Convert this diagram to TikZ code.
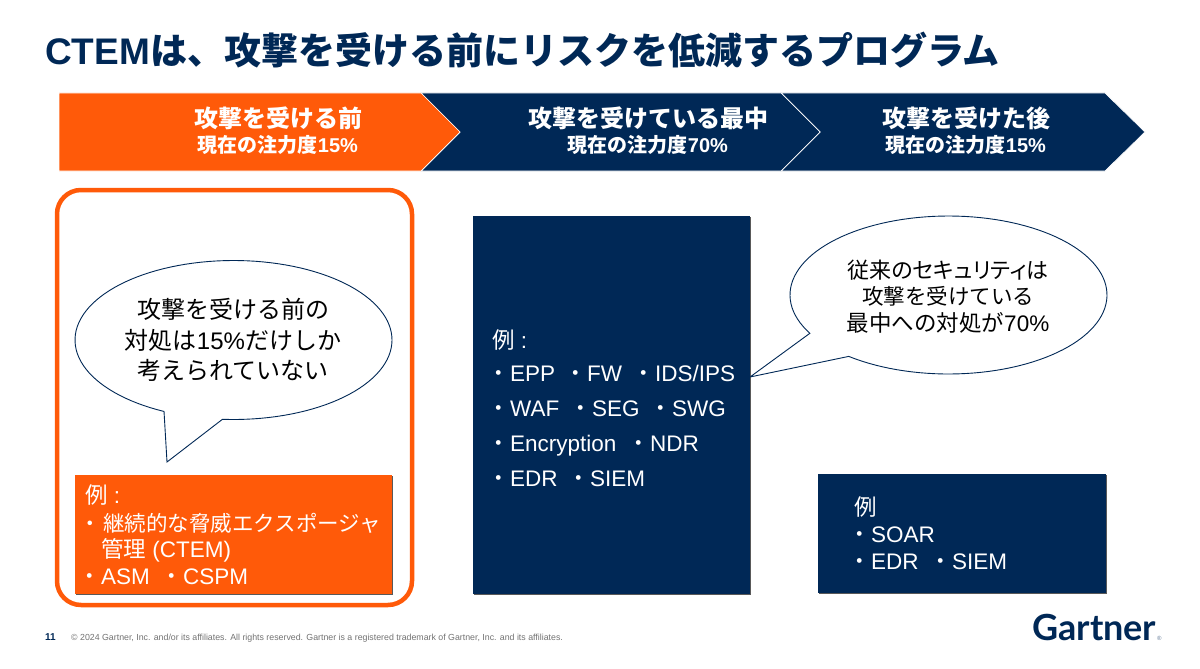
\documentclass[tikz,border=0pt]{standalone}
\usepackage{fontspec}
\setmainfont{Liberation Sans}
\newfontfamily\cjk{Noto Sans CJK JP}
\newfontfamily\cjkp[RawFeature={+palt}]{Noto Sans CJK JP}
\newfontfamily\logofont{Lato}
\newcommand{\J}[1]{{\cjk #1}}
\newcommand{\JP}[1]{{\cjkp #1}}
\definecolor{gnavy}{HTML}{002856}
\definecolor{gorange}{HTML}{FF5A09}
\tikzset{
  chev/.style={draw=white,line width=0.7pt},
  shade box/.style={fill=black!65,draw=none},
  bubble/.style={draw=gnavy,fill=white,line width=0.9pt,line join=miter},
  wt/.style={text=white,anchor=base west,inner sep=0pt,font=\fontsize{22.5}{22.5}\selectfont},
  bt/.style={text=black,anchor=base,inner sep=0pt,font=\fontsize{24}{24}\selectfont},
  head/.style={text=white,anchor=base,inner sep=0pt,font=\fontsize{24}{24}\selectfont\bfseries},
  sub/.style={text=white,anchor=base,inner sep=0pt,font=\fontsize{20}{20}\selectfont\bfseries},
}
% one bulleted item: the dot stands just before the text
\newcommand{\seg}[4]{%
  \node[wt] (#1b) at (#2-23,#3) {\J{・}};
  \node[wt] (#1) at (#2,#3) {#4};}
\begin{document}
\begin{tikzpicture}[x=1pt,y=-1pt]
\useasboundingbox (0,0) rectangle (1200,669);
\fill[white] (0,0) rectangle (1200,669);
% title
\node[anchor=base west,inner sep=0pt,text=gnavy,font=\fontsize{37}{37}\selectfont\bfseries] (title) at (45,65) {CTEM\J{は、攻撃を受ける前にリスクを低減するプログラム}};
% chevrons
\fill[chev,fill=gnavy] (781,93) -- (1105,93) -- (1145,132) -- (1105,171) -- (781,171) -- (820,132) -- cycle;
\fill[chev,fill=gnavy] (421,93) -- (781,93) -- (820,132) -- (781,171) -- (421,171) -- (460,132) -- cycle;
\fill[chev,fill=gorange] (59,93) -- (421,93) -- (460,132) -- (421,171) -- (59,171) -- cycle;
\node[head] (h1) at (278,127) {\J{攻撃を受ける前}};
\node[sub] (s1) at (278,152) {\J{現在の注力度}15\%};
\node[head] (h2) at (648,127) {\J{攻撃を受けている最中}};
\node[sub] (s2) at (648,152) {\J{現在の注力度}70\%};
\node[head] (h3) at (966,127) {\J{攻撃を受けた後}};
\node[sub] (s3) at (966,152) {\J{現在の注力度}15\%};
% frame
\draw[gorange,line width=4.5pt,rounded corners=24pt] (57,190) rectangle (412,605);
% left bubble
\draw[bubble] plot[domain=116:454,samples=120] ({233.5+158.5*cos(\x)},{340+79.5*sin(\x)}) -- (167,462) -- cycle;
\node[bt] (l1) at (233,318) {\J{攻撃を受ける前の}};
\node[bt] (l2) at (233,349) {\J{対処は}15\%\J{だけしか}};
\node[bt] (l3) at (233,379) {\J{考えられていない}};
% left box
\fill[shade box] (76,476) rectangle (393,595);
\fill[gorange] (75,475) rectangle (392,594);
\node[wt] (a1) at (85,503) {\J{例} :};
\node[wt,font=\fontsize{21.5}{21.5}\selectfont] (a2b) at (79,531) {\J{・}};
\node[wt,font=\fontsize{21.5}{21.5}\selectfont] (a2) at (103,531) {\J{継続的な脅威エクスポージャ}};
\node[wt] (a3) at (101,557) {\J{管理} (CTEM)};
\seg{a4}{101}{584}{ASM}
\seg{a5}{183}{584}{CSPM}
% middle box
\fill[shade box] (474,217) rectangle (751,595);
\fill[gnavy] (473,216) rectangle (750,594);
\node[wt] (b1) at (492,348) {\J{例} :};
\seg{b2}{510}{381}{EPP}
\seg{b3}{587}{381}{FW}
\seg{b4}{655}{381}{IDS/IPS}
\seg{b5}{510}{416}{WAF}
\seg{b6}{592}{416}{SEG}
\seg{b7}{672}{416}{SWG}
\seg{b8}{510}{451}{Encryption}
\seg{b9}{650}{451}{NDR}
\seg{b10}{510}{486}{EDR}
\seg{b11}{590}{486}{SIEM}
% right bubble
\draw[bubble] plot[domain=151:489,samples=120] ({948.5+158.5*cos(\x)},{295+79*sin(\x)}) -- (750,377) -- cycle;
\node[bt,font=\fontsize{22}{22}\selectfont] (r1) at (948,278) {\JP{従来のセキュリティは}};
\node[bt,font=\fontsize{21.5}{21.5}\selectfont] (r2) at (948,304) {\J{攻撃を受けている}};
\node[bt,font=\fontsize{22.5}{22.5}\selectfont] (r3) at (948,331) {\J{最中への対処が}70\%};
% right box
\fill[shade box] (819,475) rectangle (1107,594);
\fill[gnavy] (818,474) rectangle (1106,593);
\node[wt] (c1) at (854,515) {\J{例}};
\seg{c2}{871}{542}{SOAR}
\seg{c3}{871}{569}{EDR}
\seg{c4}{952}{569}{SIEM}
% footer
\node[anchor=base west,inner sep=0pt,text=gnavy,font=\fontsize{10}{10}\selectfont\bfseries] (pg) at (45,640) {11};
\node[anchor=base west,inner sep=0pt,text=black!55,font=\fontsize{8.8}{8.8}\selectfont] (copy) at (71,640) {© 2024 Gartner, Inc. and/or its affiliates. All rights reserved. Gartner is a registered trademark of Gartner, Inc. and its affiliates.};
\node[anchor=base west,inner sep=0pt,text=gnavy,font=\logofont\fontsize{36}{36}\selectfont\bfseries] (logo) at (1032,640) {Gartner};
\node[anchor=base west,inner sep=0pt,text=gnavy!60,font=\fontsize{6}{6}\selectfont] (reg) at (1157,640) {®};
\end{tikzpicture}
\end{document}
